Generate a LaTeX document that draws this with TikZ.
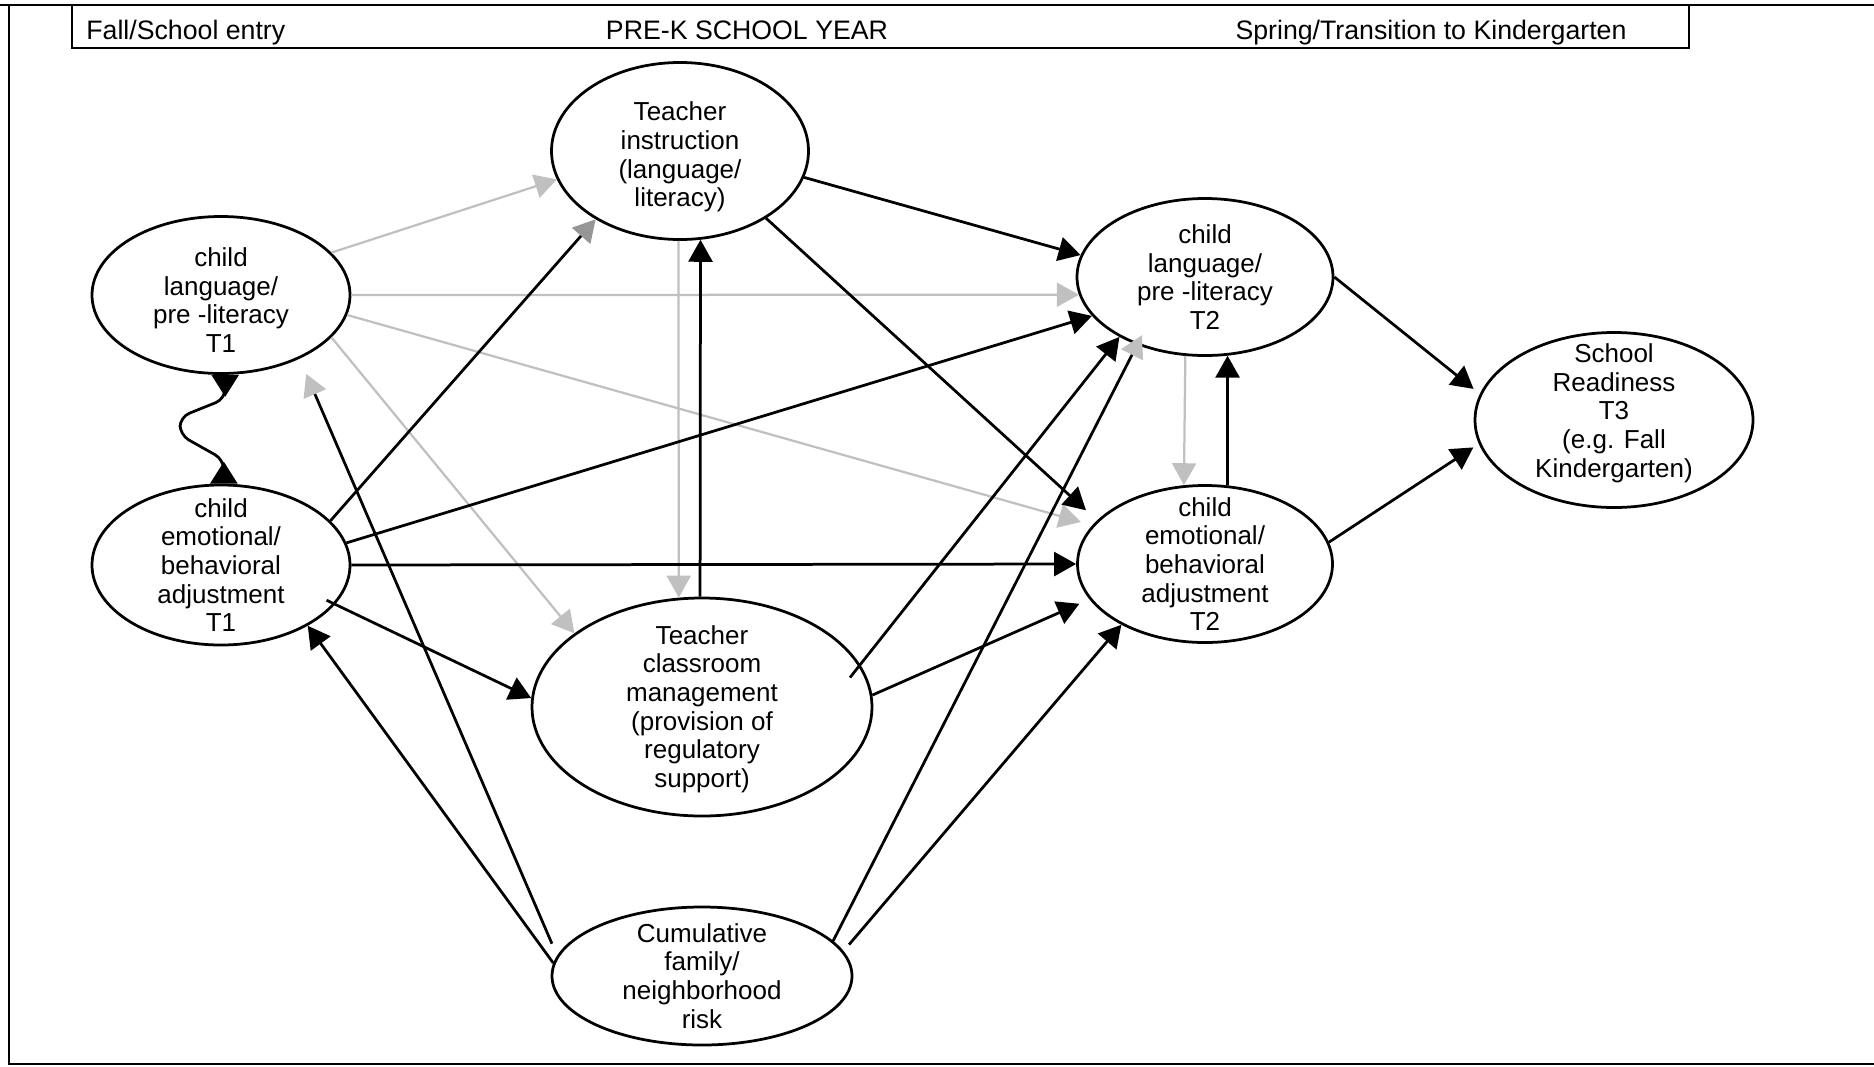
\documentclass[tikz,border=0pt]{standalone}
\usepackage{fontspec}
\setmainfont{Liberation Sans}
\usepackage{tikz}
\usetikzlibrary{arrows.meta, shapes.geometric, positioning}
\definecolor{lightlink}{HTML}{C0C0C0}
\definecolor{darktip}{HTML}{969696}
\newcommand{\diagfont}{\fontsize{14.8}{16.3}\selectfont}
\newcommand{\headfont}{\fontsize{15.2}{16.3}\selectfont}
\tikzset{
	ovalnode/.style={
			ellipse,
			draw=black,
			line width=0.55mm,
			inner sep=0pt
		},
	ovaltext/.style={
			align=center,
			inner sep=0pt,
			font=\diagfont
		},
	headtext/.style={
			inner sep=0pt,
			font=\headfont
		},
	frameline/.style={
			line width=0.55mm
		},
	blacklink/.style={
			line width=0.55mm,
			-{Triangle[length=4.4mm,width=4.8mm]}
		},
	graylink/.style={
			line width=0.45mm,
			draw=lightlink,
			-{Triangle[length=4.4mm,width=4.8mm]}
		},
	graytiplink/.style={
			line width=0.55mm,
			-{Triangle[length=4.4mm,width=4.8mm,color=lightlink]}
		},
	darktiplink/.style={
			line width=0.55mm,
			-{Triangle[length=4.4mm,width=4.8mm,color=darktip]}
		},
	bothlink/.style={
			line width=0.55mm,
			{Triangle[reversed,length=4.4mm,width=5.4mm]}-{Triangle[reversed,length=4.4mm,width=5.4mm]}
		}
}

\begin{document}
\begin{tikzpicture}[x=0.2mm, y=-0.2mm]
\useasboundingbox (0,0) rectangle (1874,1066);

\draw[frameline] (0,5) -- (1874,5);
\draw[frameline] (9,5) -- (9,1064) -- (1874,1064);
\draw[frameline] (72,5) rectangle (1689,48);

\node[headtext, anchor=base west] (fall) at (86,39) {Fall/School entry};
\node[headtext, anchor=base] (prek) at (747,39) {PRE-K SCHOOL YEAR};
\node[headtext, anchor=base] (spring) at (1431,39) {Spring/Transition to Kindergarten};

\node[ovalnode, minimum width=51.4mm, minimum height=35.4mm] (ti) at (680,151) {};
\node[ovalnode, minimum width=51.6mm, minimum height=31.4mm] (cl1) at (221,295) {};
\node[ovalnode, minimum width=51.6mm, minimum height=32mm] (ce1) at (221,565) {};
\node[ovalnode, minimum width=68mm, minimum height=43.6mm] (tcm) at (702,707) {};
\node[ovalnode, minimum width=51.2mm, minimum height=31.4mm] (cl2) at (1205,277) {};
\node[ovalnode, minimum width=51mm, minimum height=31.4mm] (ce2) at (1205,564) {};
\node[ovalnode, minimum width=55.6mm, minimum height=35mm] (sr) at (1614,420) {};
\node[ovalnode, minimum width=60mm, minimum height=27.6mm] (risk) at (702,976) {};

\node[ovaltext] (titext) at (680,157) {Teacher\\instruction\\(language/\\literacy)};
\node[ovaltext] (cl1text) at (221,300) {child\\language/\\pre -literacy\\T1};
\node[ovaltext] (ce1text) at (ce1) {child\\emotional/\\behavioral\\adjustment\\T1};
\node[ovaltext] (tcmtext) at (702,709) {Teacher\\classroom\\management\\(provision of\\regulatory\\support)};
\node[ovaltext] (cl2text) at (cl2) {child\\language/\\pre -literacy\\T2};
\node[ovaltext] (ce2text) at (ce2) {child\\emotional/\\behavioral\\adjustment\\T2};
\node[ovaltext] (srtext) at (1614,413) {School\\Readiness\\T3\\(e.g. Fall\\Kindergarten)};
\node[ovaltext] (risktext) at (risk) {Cumulative\\family/\\neighborhood\\risk};

\draw[graylink] (cl1.21) -- (ti.193);
\draw[graylink] (cl1.0) -- (cl2.188);
\draw[graylink, shorten >=2.4mm] (cl1.351) -- (ce2.161);
\draw[graylink] (cl1.339) -- (tcm.150);
\draw[graylink] (ti.269) -- (tcm.102);
\draw[graylink] (cl2.256) -- (ce2.105);

\draw[blacklink] (ti.348) -- (cl2.170);
\draw[blacklink, shorten >=3mm] (ti.322) -- (ce2.158);

\draw[darktiplink] (ce1.22) -- (ti.219);
\draw[blacklink] (ce1.10) -- (cl2.199);
\draw[blacklink] (ce1.0) -- (ce2.180);
\draw[blacklink, shorten <=-1.9mm] (ce1.341) -- (tcm.177);

\draw[blacklink] (tcm.91) -- (ti.283);
\draw[blacklink, shorten <=-3.3mm] (tcm.15) -- (cl2.215);
\draw[blacklink, shorten >=2.2mm] (tcm.4) -- (ce2.197);

\draw[blacklink] (ce2.74) -- (cl2.286);
\draw[blacklink, shorten >=1.6mm] (cl2.0) -- (sr.169);
\draw[blacklink, shorten >=1.3mm] (ce2.10) -- (sr.190);

\draw[blacklink] (risk.175) -- (ce1.325);
\draw[graytiplink, shorten <=2.6mm, shorten >=3.3mm] (risk.172) -- (cl1.321);
\draw[graytiplink, shorten >=-2.2mm] (risk.15) -- (cl2.225);
\draw[blacklink, shorten <=1.7mm] (risk.10) -- (ce2.216);

\draw[bothlink, rounded corners=2mm] (cl1.-87) -- ++(0,24) -- (180,417) -- (180,435) -- ([yshift=4.8mm]ce1.88) -- (ce1.88);
\end{tikzpicture}
\end{document}
